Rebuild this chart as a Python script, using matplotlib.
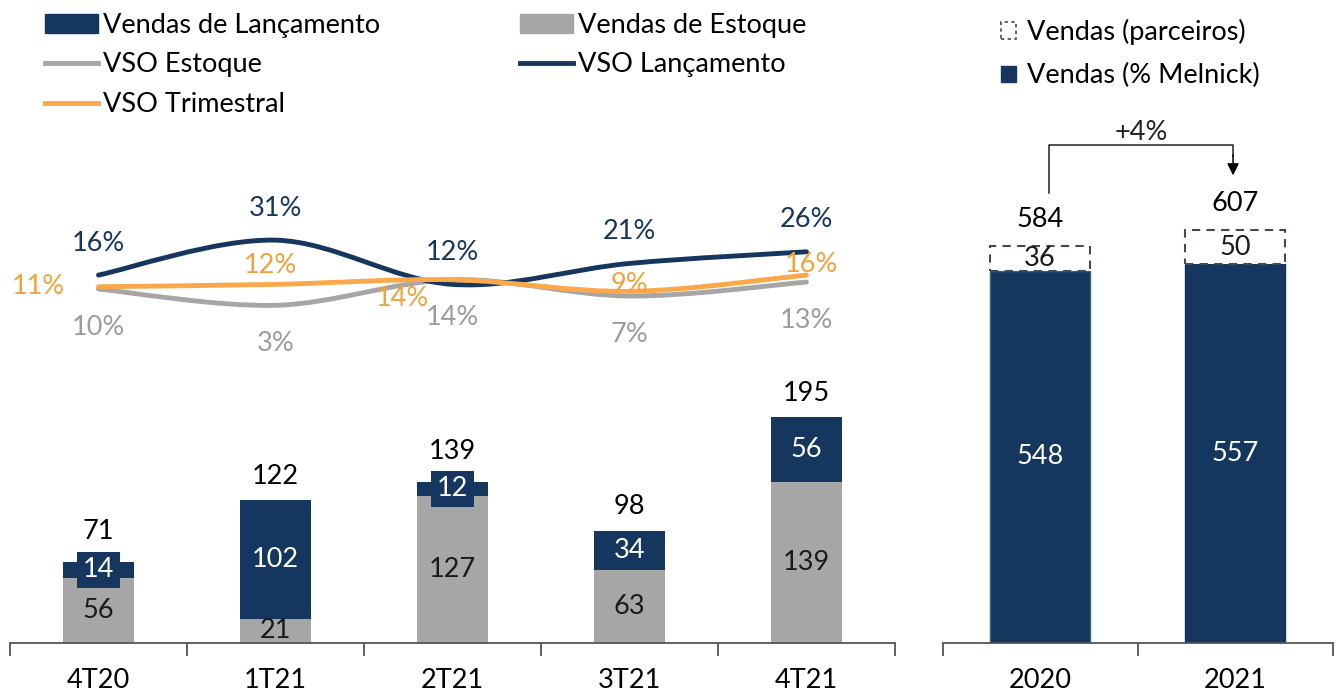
import matplotlib.pyplot as plt
from matplotlib.path import Path
from matplotlib.patches import PathPatch, Patch
from matplotlib.lines import Line2D
import numpy as np

plt.rcParams['font.family'] = ['Lato', 'DejaVu Sans']

# data
quarters = ["4T20", "1T21", "2T21", "3T21", "4T21"]
estoque = [56, 21, 127, 63, 139]
lancamento = [14, 102, 12, 34, 56]
totals = [71, 122, 139, 98, 195]
vso_lanc = [16, 31, 12, 21, 26]
vso_est = [10, 3, 14, 7, 13]
vso_tri = [11, 12, 14, 9, 16]

years = ["2020", "2021"]
melnick = [548, 557]
parceiros = [36, 50]
year_totals = [584, 607]
growth = "+4%"

navy = "#15365E"
gray = "#A6A6A6"
orange = "#FBA84A"
txt = "#1A1A1A"
axc = "#555555"

fig = plt.figure(figsize=(13.39, 6.93), dpi=100)
H, W = 693, 1339
ax = fig.add_axes([10 / W, 50 / H, 885 / W, 503 / H])
axr = fig.add_axes([942.5 / W, 50 / H, 390 / W, 503 / H])

x = np.arange(len(quarters))
bw = 0.4
ax.bar(x, estoque, bw, color=gray)
ax.bar(x, lancamento, bw, bottom=estoque, color=navy)
ax.set_xlim(-0.5, 4.5)
ax.set_ylim(0, 434)

fs = 19.5
for i in range(len(x)):
    ax.text(x[i], estoque[i] / 2, str(estoque[i]), ha="center", va="center",
            fontsize=fs, color=txt)
    small = lancamento[i] < 20
    ax.text(x[i], estoque[i] + lancamento[i] / 2, str(lancamento[i]), ha="center",
            va="center", fontsize=fs, color="white",
            bbox=dict(boxstyle="square,pad=0.2", fc=navy, ec="none") if small else None)
    ax.annotate(str(totals[i]), (x[i], estoque[i] + lancamento[i]), xytext=(0, 8 if not small else 13),
                textcoords="offset points", ha="center", va="bottom", fontsize=fs, color="black")

# axis styling
for s in ["top", "right", "left"]:
    ax.spines[s].set_visible(False)
ax.spines["bottom"].set_color(axc)
ax.spines["bottom"].set_linewidth(1.3)
ax.set_yticks([])
ax.set_xticks(x)
ax.set_xticklabels(quarters, fontsize=fs, color="black")
ax.tick_params(axis="x", length=0, pad=18)
ax.set_xticks(np.arange(-0.5, 5, 1), minor=True)
ax.tick_params(axis="x", which="minor", length=9, width=1.3, color=axc)

# lines on twin axis
ax2 = ax.twinx()
ax2.set_ylim(-142, 74)
ax2.axis("off")


def smooth_path(xs, ys):
    pts = np.column_stack([xs, ys]).astype(float)
    ext = np.vstack([pts[0], pts, pts[-1]])
    verts = [pts[0]]
    codes = [Path.MOVETO]
    for k in range(len(pts) - 1):
        p0, p1, p2, p3 = ext[k], ext[k + 1], ext[k + 2], ext[k + 3]
        c1 = p1 + (p2 - p0) / 6
        c2 = p2 - (p3 - p1) / 6
        verts += [c1, c2, p2]
        codes += [Path.CURVE4] * 3
    return Path(verts, codes)


for vals, col in [(vso_est, gray), (vso_lanc, navy), (vso_tri, orange)]:
    ax2.add_patch(PathPatch(smooth_path(x, vals), fc="none", ec=col, lw=3.5,
                            capstyle="round"))

pt = 72 / 100
for i in range(len(x)):
    ax2.annotate(f"{vso_lanc[i]}%", (x[i], vso_lanc[i]), xytext=(0, 32 * pt),
                 textcoords="offset points", ha="center", va="center", fontsize=fs, color=navy)
    ax2.annotate(f"{vso_est[i]}%", (x[i], vso_est[i]), xytext=(0, -38 * pt),
                 textcoords="offset points", ha="center", va="center", fontsize=fs, color="#9C9C9C")
tri_off = [(-60, 0), (-5, 19), (-50, -19), (0, 7), (5, 11)]
for i in range(len(x)):
    dx, dy = tri_off[i]
    ax2.annotate(f"{vso_tri[i]}%", (x[i], vso_tri[i]), xytext=(dx * pt, dy * pt),
                 textcoords="offset points", ha="center", va="center", fontsize=fs, color="#F2A23A")

# right panel
xr = np.arange(len(years))
bwr = 0.51
axr.bar(xr, melnick, bwr, color=navy, edgecolor=["#2A6A6A", navy], linewidth=1)
axr.bar(xr, parceiros, bwr, bottom=melnick, color="white", edgecolor="#3E4B5B",
        linestyle=(0, (4, 3)), linewidth=1.5)
axr.set_xlim(-0.5, 1.5)
axr.set_ylim(0, 740)
for i in range(len(xr)):
    axr.text(xr[i], melnick[i] / 2, str(melnick[i]), ha="center", va="center",
             fontsize=fs, color="white")
    axr.text(xr[i], melnick[i] + parceiros[i] / 2, str(parceiros[i]), ha="center", va="center",
             fontsize=fs, color=txt)
    axr.annotate(str(year_totals[i]), (xr[i], melnick[i] + parceiros[i]), xytext=(0, 27 * pt),
                 textcoords="offset points", ha="center", va="center", fontsize=fs, color="black")

top = max(year_totals) + 125
axr.plot([0.046, 0.046, 0.99, 0.99], [year_totals[0] + 78, top, top, top - 15],
         color="#222222", lw=1.1, clip_on=False)
axr.annotate("", xy=(0.99, year_totals[1] + 81), xytext=(0.99, top - 14),
             arrowprops=dict(arrowstyle="-|>,head_length=0.7,head_width=0.35", color="black",
                             lw=1.1, shrinkA=0, shrinkB=0), annotation_clip=False)
axr.text(0.52, top + 13 / 0.68, growth, ha="center", va="center", fontsize=fs, color="#222222")

for s in ["top", "right", "left"]:
    axr.spines[s].set_visible(False)
axr.spines["bottom"].set_color(axc)
axr.spines["bottom"].set_linewidth(1.3)
axr.set_yticks([])
axr.set_xticks(xr)
axr.set_xticklabels(years, fontsize=fs, color="black")
axr.tick_params(axis="x", length=0, pad=18)
axr.set_xticks([-0.5, 0.5, 1.5], minor=True)
axr.tick_params(axis="x", which="minor", length=9, width=1.3, color=axc)

# legends
h_left = [Patch(color=navy), Line2D([], [], color=gray, lw=3.5),
          Line2D([], [], color=orange, lw=3.5), Patch(color=gray),
          Line2D([], [], color=navy, lw=3.5)]
l_left = ["Vendas de Lançamento", "VSO Estoque", "VSO Trimestral", "Vendas de Estoque",
          "VSO Lançamento"]
fig.legend(h_left, l_left, loc="upper left", bbox_to_anchor=(34 / W, 1 - 2 / H), ncol=2,
           frameon=False, fontsize=fs, handlelength=1.95, handletextpad=0.18,
           columnspacing=5.2, labelspacing=0.54, borderaxespad=0)

h_right = [Patch(fc="white", ec="#3E4B5B", ls=(0, (2, 2)), lw=1.2), Patch(color=navy)]
l_right = ["Vendas (parceiros)", "Vendas (% Melnick)"]
fig.legend(h_right, l_right, loc="upper left", bbox_to_anchor=(990 / W, 1 - 8 / H),
           frameon=False, fontsize=fs, handlelength=0.55, handleheight=0.55,
           handletextpad=0.4, labelspacing=0.68, borderaxespad=0)

fig.savefig("out.png", dpi=100)
